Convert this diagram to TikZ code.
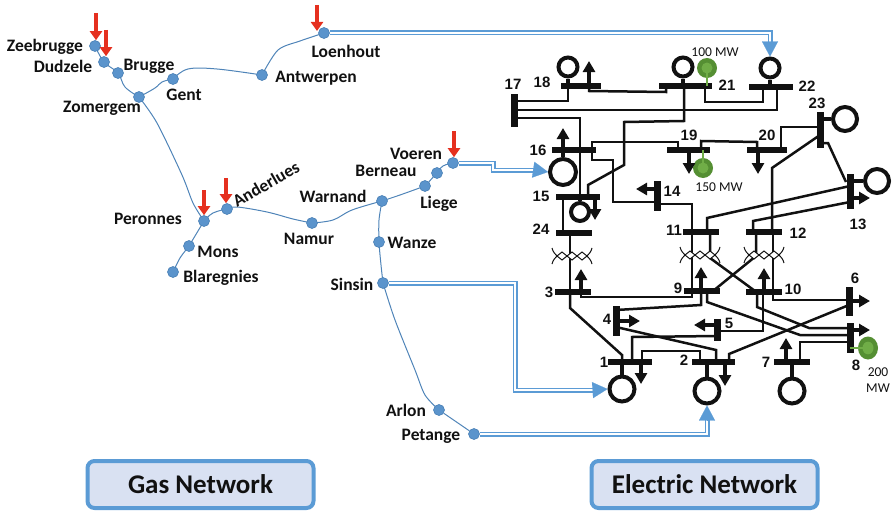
\documentclass[tikz,border=0pt]{standalone}
\usepackage{fontspec}
\setmainfont{Carlito}
\newfontfamily\busfont{Liberation Sans}
\usetikzlibrary{arrows.meta,backgrounds}
\definecolor{dotblue}{HTML}{5B94CC}
\definecolor{dotedge}{HTML}{4A80B5}
\definecolor{pipeblue}{HTML}{4F84B8}
\definecolor{linkblue}{HTML}{5B9BD5}
\definecolor{redarrow}{HTML}{E5301F}
\definecolor{gendark}{HTML}{558F33}
\definecolor{genlight}{HTML}{70AD47}
\definecolor{boxfill}{HTML}{D9E1F2}
\definecolor{ink}{HTML}{111111}
\tikzset{
  x=1pt,y=-1pt,
  gasnode/.style={circle,fill=dotblue,draw=dotedge,line width=.6pt,minimum size=11pt,inner sep=0pt},
  gaslabel/.style={font=\fontsize{17.5}{18}\selectfont\bfseries,text=ink,inner sep=0pt,yshift=-1pt},
  pipe/.style={draw=pipeblue,line width=1pt},
  link/.style={draw=linkblue,line width=1.6pt,double=white,double distance=1.8pt},
  linkhead/.style={draw=linkblue,line width=.1pt,-{Triangle[length=15pt,width=16pt,fill=linkblue]}},
  redtip/.style={draw=redarrow,line width=4pt,-{Triangle[length=9pt,width=12pt,fill=redarrow]}},
  hbus/.style={rectangle,fill=ink,inner sep=0pt,minimum height=6pt},
  vbus/.style={rectangle,fill=ink,inner sep=0pt,minimum width=7pt},
  gen/.style={circle,draw=ink,fill=white,line width=4pt,inner sep=0pt},
  greengen/.style={circle,fill=gendark,inner sep=0pt,path picture={\fill[genlight] (path picture bounding box.center) circle (5.5pt);}},
  wire/.style={draw=ink,line width=2.5pt,line join=miter},
  stub/.style={draw=ink,line width=3.6pt},
  greenstub/.style={draw=genlight,line width=2.2pt},
  load/.style={draw=ink,line width=3.2pt,-{Triangle[length=11pt,width=12pt,fill=ink]}},
  busno/.style={font=\busfont\fontsize{15}{15}\selectfont\bfseries,text=ink,inner sep=0pt},
  mwlabel/.style={font=\fontsize{13.5}{16}\selectfont,text=ink,inner sep=0pt,align=center},
  titlebox/.style={rectangle,rounded corners=7pt,draw=linkblue,fill=boxfill,line width=4pt,minimum width=226pt,minimum height=47pt,font=\fontsize{27}{28}\selectfont\bfseries,text=ink},
  xfmr/.pic={
    \path[fill=white,draw=ink,line width=1pt]
      (-15,0) -- (-10,-4) -- (-5,0) -- (-10,4) -- cycle
      (-5,0) -- (0,-4) -- (5,0) -- (0,4) -- cycle
      (5,0) -- (10,-4) -- (15,0) -- (10,4) -- cycle;
    \draw[ink,line width=1pt] (-20,-8) .. controls (-19,-4) and (-17,-2) .. (-15,0) .. controls (-17,2) and (-19,4) .. (-20,8);
    \draw[ink,line width=1pt] (20,-8) .. controls (19,-4) and (17,-2) .. (15,0) .. controls (17,2) and (19,4) .. (20,8);
  }
}
\begin{document}
\begin{tikzpicture}
\useasboundingbox (0,0) rectangle (893,511);
% gas nodes
\foreach \n/\p in {zee/{95,46},dud/{104,62},bru/{118,73},zom/{139,97},gen/{173,79},ant/{262,75},loe/{324,33},per/{204,221},and/{227,209},nam/{312,223},mon/{189,246},bla/{173,272},war/{382,201},lie/{425,186},ber/{437,173},voe/{453,163},wan/{379,242},sin/{383,283},arl/{439,410},pet/{474,434}}
  {\node[gasnode] (\n) at (\p) {};}
% gas labels
\node[gaslabel] (lzee) at (45,46) {Zeebrugge};
\node[gaslabel] (ldud) at (63,65) {Dudzele};
\node[gaslabel] (lbru) at (149,65) {Brugge};
\node[gaslabel] (lgen) at (184,94) {Gent};
\node[gaslabel] (lzom) at (102,107) {Zomergem};
\node[gaslabel] (lant) at (316,77) {Antwerpen};
\node[gaslabel] (lloe) at (346,50) {Loenhout};
\node[gaslabel] (lper) at (148,218) {Peronnes};
\node[gaslabel,rotate=30] (land) at (266,183) {Anderlues};
\node[gaslabel] (lwar) at (333,195) {Warnand};
\node[gaslabel] (lnam) at (309,238) {Namur};
\node[gaslabel] (lmon) at (218,251) {Mons};
\node[gaslabel] (lbla) at (221,277) {Blaregnies};
\node[gaslabel] (lvoe) at (416,153) {Voeren};
\node[gaslabel] (lber) at (386,170) {Berneau};
\node[gaslabel] (llie) at (439,203) {Liege};
\node[gaslabel] (lwan) at (412,242) {Wanze};
\node[gaslabel] (lsin) at (352,283) {Sinsin};
\node[gaslabel] (larl) at (406,409) {Arlon};
\node[gaslabel] (lpet) at (431,435) {Petange};
% horizontal buses
\foreach \n/\p/\w in {b18/{581,86}/40,b21/{685.5,86}/53,b22/{771,87}/44,b16/{574,150}/44,b19/{688.5,150}/43,b20/{767,150}/40,b15/{578,197}/44,b24/{574,233}/36,b11/{701,232}/36,b12/{764,232}/36,b3/{573,292}/36,b9/{702,291}/36,b10/{764,292}/36,b1/{630,362}/44,b2/{713.5,362}/43,b7/{792,362}/36}
  {\node[hbus,minimum width=\w pt] (\n) at (\p) {};}
% vertical buses
\foreach \n/\p/\h in {b17/{514,110.5}/33,b23/{820,130}/36,b14/{657,196}/30,b13/{850,191.5}/35,b6/{849,301.5}/29,b8/{850,338}/30,b4/{616,321}/30,b5/{717,330}/22}
  {\node[vbus,minimum height=\h pt] (\n) at (\p) {};}
% generators
\foreach \n/\p/\s in {g18/{568,67}/19,g21/{683,67}/19,g22/{770,68}/19,g23/{845,119}/24,g13/{877,181}/24,g16/{563,172}/26,g15/{580,212}/18,g1/{622,389}/25,g2/{707,391}/25,g7/{792,391}/25}
  {\node[gen,minimum size=\s pt] (\n) at (\p) {};}
\node[greengen,minimum size=20pt] (gr21) at (707,68) {};
\node[greengen,minimum size=20pt] (gr19) at (703,168) {};
\node[greengen,minimum size=20pt,yscale=1.15] (gr8) at (868,348) {};
\draw[greenstub] (gr21.center) -- (b21 -| gr21);
\draw[greenstub] (gr19.center) -- (b19 -| gr19);
\draw[greenstub] (gr8.center) ++(-5,0) -- (b8 |- gr8);
% bus numbers
\foreach \t/\p in {17/{513,84},18/{542,82},21/{727,85},22/{807,86},23/{817,103},16/{538,150},19/{689,135},20/{767,135},14/{672,191},15/{541,196},13/{858,224},24/{541,229},11/{674,230},12/{798,233},3/{549,292},9/{678,288},10/{793,289},6/{855,278},5/{729,323},4/{607,319},1/{604,362},2/{684,360},7/{766,362},8/{856,365}}
  {\node[busno] (n\t) at (\p) {\t};}
\node[mwlabel] (mw100) at (715,52) {100 MW};
\node[mwlabel] (mw150) at (719,187) {150 MW};
\node[mwlabel] (mw200) at (878,380) {200\\MW};
% title boxes
\node[titlebox] (gasbox) at (200.5,484.5) {Gas Network};
\node[titlebox] (elecbox) at (704.5,484.5) {Electric Network};
% red arrows
\draw[redtip] (96,13) -- (zee.north -| 96,0);
\draw[redtip] (106,30) -- (dud.north -| 106,0);
\draw[redtip] (204,190) -- (per.north);
\draw[redtip] (226,178) -- (and.north -| 226,0);
\draw[redtip] (317,5) -- (317,31);
\draw[redtip] (454,131) -- (voe.north -| 454,0);
% load arrows
\draw[load] (b18 -| 589,0) -- ++(0,-25);
\draw[load] (b16 -| 563,0) -- ++(0,-22);
\draw[load] (b19 -| 689,0) -- ++(0,24);
\draw[load] (b20 -| 758,0) -- ++(0,24);
\draw[load] (b15 -| 595,0) -- ++(0,23);
\draw[load] (b14 |- 0,189) -- ++(-21,0);
\draw[load] (b13 |- 0,198) -- ++(20,0);
\draw[load] (b3 -| 581,0) -- ++(0,-23);
\draw[load] (b9 -| 701,0) -- ++(0,-24);
\draw[load] (b10 -| 764,0) -- ++(0,-24);
\draw[load] (b6 |- 0,301) -- ++(21,0);
\draw[load] (b8 |- 0,330) -- ++(20,0);
\draw[load] (b4 |- 0,321) -- ++(24,0);
\draw[load] (b5 |- 0,325) -- ++(-23,0);
\draw[load] (b1 -| 641,0) -- ++(0,22);
\draw[load] (b2 -| 725,0) -- ++(0,24);
\draw[load] (b7 -| 786,0) -- ++(0,-24);
% transformers + wires
\begin{pgfonlayer}{background}
% gas pipelines
\draw[pipe] plot[smooth,tension=.6] coordinates {(zee) (dud) (bru) (125,87) (zom)};
\draw[pipe] plot[smooth,tension=.7] coordinates {(zom) (155,88) (162,82) (gen)};
\draw[pipe] plot[smooth,tension=.6] coordinates {(gen) (188,69) (217,69) (ant)};
\draw[pipe] plot[smooth,tension=.5] coordinates {(ant) (278,50) (300,41) (loe)};
\draw[pipe] plot[smooth,tension=.5] coordinates {(zom) (157,123) (182,175) (193,203) (per)};
\draw[pipe] plot[smooth,tension=.7] coordinates {(per) (213,213) (and)};
\draw[pipe] plot[smooth,tension=.6] coordinates {(and) (237,207) (267,212) (293,219) (nam)};
\draw[pipe] plot[smooth,tension=.6] coordinates {(nam) (333,220) (352,210) (war)};
\draw[pipe] plot[smooth,tension=.5] coordinates {(war) (400,195) (lie)};
\draw[pipe] (lie) -- (ber);
\draw[pipe] plot[smooth,tension=.7] coordinates {(ber) (443,166) (voe)};
\draw[pipe] plot[smooth,tension=.5] coordinates {(war) (379,220) (wan) (381,265) (sin)};
\draw[pipe] plot[smooth,tension=.5] coordinates {(sin) (395,320) (415,370) (425,395) (arl)};
\draw[pipe] (arl) -- (pet);
\draw[pipe] plot[smooth,tension=.6] coordinates {(per) (mon)};
\draw[pipe] plot[smooth,tension=.5] coordinates {(mon) (180,258) (bla)};
% links gas-electric
\draw[link] (loe) -- (770,33) -- (770,45);
\draw[link] (voe) -- (493,163) -- (493,170) -- (536,170);
\draw[link] (sin) -- (515,283) -- (515,390) -- (595,390);
\draw[link] (pet) -- (707,434) -- (707,419);
% generator stubs
\draw[stub] (g18) -- (b18 -| g18);
\draw[stub] (g21) -- (b21 -| g21);
\draw[stub] (g22) -- (b22 -| g22);
\draw[stub] (g23) -- (b23 |- g23);
\draw[stub] (g13) -- (b13 |- g13);
\draw[stub] (g16) -- (b16 -| g16);
\draw[stub] (g15) -- (b15 -| g15);
\draw[stub] (g1) -- (b1 -| g1);
\draw[stub] (g2) -- (b2 -| g2);
\draw[stub] (g7) -- (b7 -| g7);
% wires
\draw[wire] (b18 -| 568,0) -- (568,101) -- (b17 |- 0,101);
\draw[wire] (b18 -| 589,0) -- (589,91) -- (666,92) -- (b21 -| 666,0);
\draw[wire] (b21 -| 705,0) -- (705,102) -- (763,102) -- (b22 -| 763,0);
\draw[wire] (b22 -| 777,0) -- (777,110) -- (b17 |- 0,110);
\draw[wire] (b17 |- 0,118) -- (580,118) -- (b15 -| 580,0);
\draw[wire] (b21 -| 684,0) -- (684,121) -- (624,122) -- (624,165) -- (588,185) -- (b15 -| 588,0);
\draw[wire] (b16 -| 592,0) -- (592,142) -- (678,142) -- (b19 -| 678,0);
\draw[wire] (b19 -| 701,0) -- (701,141) -- (757,142) -- (b20 -| 757,0);
\draw[wire] (b20 -| 781,0) -- (781,127) -- (b23 |- 0,127);
\draw[wire] (b16 -| 592,0) -- (592,160) -- (613,160) -- (613,202) -- (b14 |- 0,202);
\draw[wire] (b14 |- 0,204) -- (692,204) -- (b11 -| 692,0);
\draw[wire] (b23 |- 0,135) -- (772,168) -- (b12 -| 772,0);
\draw[wire] (b23 |- 0,143) -- (828,143) -- (846,182);
\draw[wire] (b13 |- 0,186) -- (707,218) -- (b11 -| 707,0);
\draw[wire] (b13 |- 0,202) -- (753,221) -- (b12 -| 753,0);
\draw[wire] (b15 -| 563,0) -- (b24 -| 563,0);
\draw[wire] (b24 -| 570,0) -- (b3 -| 570,0);
\draw[wire] (b3 -| 570,0) -- (570,308) -- (622,355) -- (b1 -| 622,0);
\draw[wire] (b3 -| 581,0) -- (581,297) -- (692,297) -- (b9 -| 692,0);
\draw[wire] (b11 -| 692,0) -- (b9 -| 692,0);
\draw[wire] (b11 -| 710,0) -- (710,258) -- (755,291);
\draw[wire] (b12 -| 756,0) -- (756,256) -- (713,291);
\draw[wire] (b12 -| 773,0) -- (b10 -| 773,0);
\draw[wire] (b9 -| 701,0) -- (701,305) -- (b4 |- 0,310);
\draw[wire] (b4 |- 0,327) -- (716,350) -- (b2 -| 716,0);
\draw[wire] (b9 -| 707,0) -- (707,302) -- (800,335) -- (b8 |- 0,335);
\draw[wire] (b10 -| 757,0) -- (757,307) -- (809,328) -- (b8 |- 0,328);
\draw[wire] (b10 -| 773,0) -- (773,300) -- (b6 |- 0,300);
\draw[wire] (b10 -| 763,0) -- (763,331) -- (b5 |- 0,331);
\draw[wire] (b5 |- 0,336) -- (632,337) -- (b1 -| 632,0);
\draw[wire] (b1 -| 642,0) -- (642,351) -- (700,351) -- (b2 -| 700,0);
\draw[wire] (b2 -| 729,0) -- (729,354) -- (b6 |- 0,305);
\draw[wire] (b7 -| 800,0) -- (800,342) -- (b8 |- 0,342);
\end{pgfonlayer}
\pic at (572,256) {xfmr};
\pic at (700,255) {xfmr};
\pic at (764,255) {xfmr};
\draw[linkhead] (770,44) -- (g22.north);
\draw[linkhead] (535,170) -- (g16.west);
\draw[linkhead] (594,390) -- (g1.west);
\draw[linkhead] (707,420) -- (g2.south);
\end{tikzpicture}
\end{document}
